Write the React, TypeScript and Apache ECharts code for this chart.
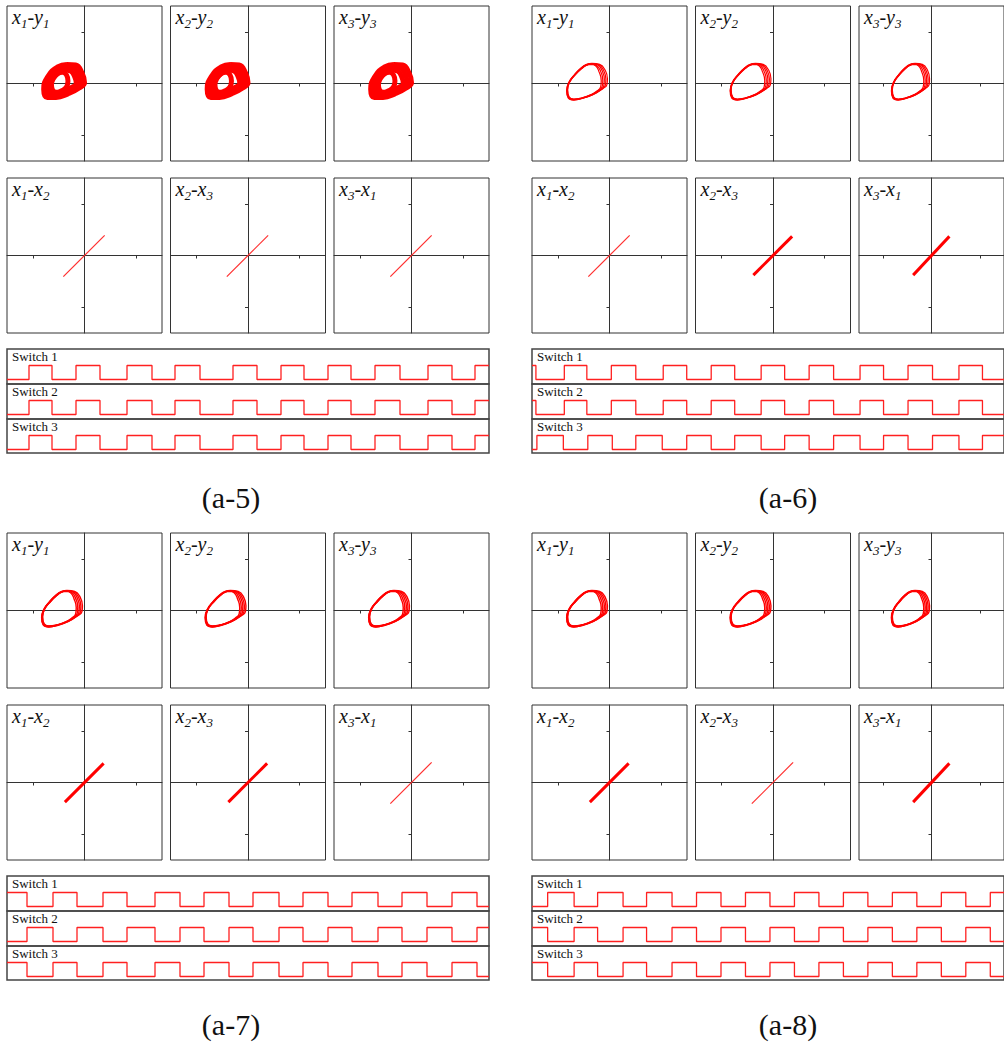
import React, { useEffect, useRef } from 'react';
import * as echarts from 'echarts';

// ---------- data ----------
// a-5 dense attractor (x, y) loops
const blobLoop1 = [[-0.34,0.37],[-0.17,0.36],[-0.05,0.21],[0.0,0.02],[-0.11,-0.09],[-0.32,-0.20],[-0.55,-0.27],[-0.72,-0.27],[-0.79,-0.11],[-0.70,0.15],[-0.52,0.32],[-0.34,0.37]];
const blobLoop2 = [[-0.36,0.31],[-0.22,0.30],[-0.12,0.17],[-0.08,0.01],[-0.17,-0.08],[-0.34,-0.16],[-0.54,-0.22],[-0.68,-0.21],[-0.73,-0.08],[-0.65,0.12],[-0.50,0.27],[-0.36,0.31]];
const blobLoop3 = [[-0.38,0.26],[-0.27,0.24],[-0.19,0.13],[-0.16,0.0],[-0.24,-0.07],[-0.38,-0.13],[-0.54,-0.17],[-0.64,-0.15],[-0.68,-0.05],[-0.61,0.10],[-0.49,0.22],[-0.38,0.26]];
const blobLoop4 = [[-0.43,0.22],[-0.35,0.17],[-0.32,0.05],[-0.35,-0.07],[-0.44,-0.14],[-0.55,-0.18],[-0.62,-0.12],[-0.64,-0.02],[-0.60,0.10],[-0.52,0.19],[-0.43,0.22]];

// a-6 / a-7 / a-8 thin attractor loops (strands bunch on the right side)
const ringLoopA = [[-0.34,0.39],[-0.19,0.37],[-0.08,0.25],[-0.04,0.09],[-0.05,-0.02],[-0.13,-0.10],[-0.31,-0.21],[-0.50,-0.28],[-0.69,-0.32],[-0.80,-0.28],[-0.83,-0.14],[-0.79,0.02],[-0.67,0.18],[-0.54,0.31],[-0.44,0.37],[-0.34,0.39]];
const ringLoopB = [[-0.35,0.385],[-0.21,0.365],[-0.11,0.245],[-0.07,0.085],[-0.08,-0.03],[-0.16,-0.115],[-0.33,-0.215],[-0.51,-0.28],[-0.69,-0.315],[-0.795,-0.275],[-0.825,-0.135],[-0.785,0.02],[-0.665,0.18],[-0.54,0.305],[-0.44,0.365],[-0.35,0.385]];
const ringLoopC = [[-0.35,0.38],[-0.23,0.36],[-0.14,0.24],[-0.10,0.08],[-0.11,-0.04],[-0.19,-0.13],[-0.35,-0.22],[-0.52,-0.28],[-0.69,-0.31],[-0.79,-0.27],[-0.82,-0.13],[-0.78,0.02],[-0.66,0.18],[-0.535,0.30],[-0.445,0.36],[-0.35,0.38]];
const ringLoopD = [[-0.36,0.375],[-0.25,0.35],[-0.17,0.23],[-0.13,0.07],[-0.14,-0.05],[-0.22,-0.14],[-0.37,-0.225],[-0.53,-0.28],[-0.69,-0.305],[-0.785,-0.265],[-0.815,-0.125],[-0.775,0.025],[-0.655,0.18],[-0.53,0.30],[-0.445,0.355],[-0.36,0.375]];
const ringLoopE = [[-0.36,0.37],[-0.27,0.345],[-0.20,0.22],[-0.16,0.06],[-0.17,-0.06],[-0.25,-0.15],[-0.39,-0.23],[-0.54,-0.28],[-0.69,-0.30],[-0.78,-0.26],[-0.81,-0.12],[-0.77,0.03],[-0.65,0.18],[-0.53,0.295],[-0.45,0.35],[-0.36,0.37]];

// x_i - x_j synchronisation lines
const diagThin = [[-0.41,-0.41],[0.39,0.39]];
const diagThick = [[-0.38,-0.38],[0.37,0.37]];
const a5DiagThick = [false, false, false];
const a6DiagThick = [false, true, true];
const a7DiagThick = [true, true, false];
const a8DiagThick = [true, false, true];

// switch signals: start level and toggle positions
const a5SwitchStart = [0, 0, 0];
const a5Switch1Edges = [22,45,69,93,120,145,168,193,226,250,274,297,321,344,368,393,421,445,468];
const a5Switch2Edges = [22,45,69,93,120,145,168,193,226,250,274,297,321,344,368,393,421,445,468];
const a5Switch3Edges = [22,45,69,93,120,145,168,193,226,250,274,297,321,344,368,393,421,445,468];
const a6SwitchStart = [1, 1, 0];
const a6Switch1Edges = [4,33,56,81,106,134,158,183,207,234,258,283,308,335,359,384,409,436,460];
const a6Switch2Edges = [4,33,56,81,106,134,158,183,207,234,258,283,308,335,359,384,409,436,460];
const a6Switch3Edges = [5,32,57,82,106,133,158,183,207,234,258,283,308,335,359,384,409,436,460];
const a7SwitchStart = [1, 0, 1];
const a7Switch1Edges = [20,46,70,96,120,148,173,197,222,246,272,296,321,345,371,395,420,445,470];
const a7Switch2Edges = [20,46,70,96,120,148,173,197,222,246,272,296,321,345,371,395,420,445,470];
const a7Switch3Edges = [20,46,70,96,120,148,173,197,222,246,272,296,321,345,371,395,420,445,470];
const a8SwitchStart = [0, 1, 1];
const a8Switch1Edges = [16,43,67,93,117,143,168,193,218,243,268,293,318,343,368,393,418,443,468];
const a8Switch2Edges = [16,43,67,93,117,143,168,193,218,243,268,293,318,343,368,393,418,443,468];
const a8Switch3Edges = [16,43,67,93,117,143,168,193,218,243,268,293,318,343,368,393,418,443,468];

const PANEL_NAMES = ['(a-5)', '(a-6)', '(a-7)', '(a-8)'];
const TOP_ROW_LABELS = [['x','1','y','1'],['x','2','y','2'],['x','3','y','3']];
const BOTTOM_ROW_LABELS = [['x','1','x','2'],['x','2','x','3'],['x','3','x','1']];
const SWITCH_NAMES = ['Switch 1', 'Switch 2', 'Switch 3'];
const AXIS_TICKS = [-1, 1];

// ---------- layout ----------
const W = 1004, H = 1044;
const PANEL_ORIGINS = [[7, 6], [532, 6], [7, 533], [532, 533]];
const CAPTION_POS = [[231, 497], [788, 497], [231, 1024], [788, 1024]];
const BOX = 155, COL_STEP = 163.5, ROW_STEP = 172;
const SW_OFFSETS = [343, 378, 413];
const SW_HEIGHTS = [35, 35, 34];
const SW_WIDTH = 482;
const RED = '#ff0000';
const SERIF = '"Liberation Serif", "Times New Roman", serif';

function buildOption() {
  const grid: any[] = [], xAxis: any[] = [], yAxis: any[] = [], series: any[] = [], graphic: any[] = [];
  const rings = [ringLoopA, ringLoopB, ringLoopC, ringLoopD, ringLoopE];
  const panels = [
    { loops: [blobLoop1, blobLoop2, blobLoop3, blobLoop4], loopWidth: 5, diag: a5DiagThick, start: a5SwitchStart, edges: [a5Switch1Edges, a5Switch2Edges, a5Switch3Edges] },
    { loops: rings, loopWidth: 1.2, diag: a6DiagThick, start: a6SwitchStart, edges: [a6Switch1Edges, a6Switch2Edges, a6Switch3Edges] },
    { loops: rings, loopWidth: 1.4, diag: a7DiagThick, start: a7SwitchStart, edges: [a7Switch1Edges, a7Switch2Edges, a7Switch3Edges] },
    { loops: rings, loopWidth: 1.4, diag: a8DiagThick, start: a8SwitchStart, edges: [a8Switch1Edges, a8Switch2Edges, a8Switch3Edges] },
  ];

  const label = (parts: string[], left: number, top: number) => ({
    type: 'text', left, top, silent: true,
    style: {
      text: `{v|${parts[0]}}{s|${parts[1]}}{v|-${parts[2]}}{s|${parts[3]}}`,
      fill: '#111',
      rich: {
        v: { fontFamily: SERIF, fontStyle: 'italic', fontSize: 20, lineHeight: 22, fill: '#111' },
        s: { fontFamily: SERIF, fontStyle: 'italic', fontSize: 13, padding: [12, 0, 0, 0], fill: '#111' },
      },
    },
  });

  panels.forEach((p, pi) => {
    const [ox, oy] = PANEL_ORIGINS[pi];
    for (let r = 0; r < 2; r++) {
      for (let c = 0; c < 3; c++) {
        const left = ox + c * COL_STEP, top = oy + r * ROW_STEP;
        const g = grid.length;
        grid.push({ left, top, width: BOX, height: BOX, show: true, borderColor: '#333', borderWidth: 1, backgroundColor: 'transparent' });
        const axisCommon = {
          type: 'value', gridIndex: g, min: -1.5, max: 1.5,
          axisLine: { show: true, onZero: true, lineStyle: { color: '#333', width: 1 } },
          axisTick: { show: true, customValues: AXIS_TICKS, length: 3, lineStyle: { color: '#333', width: 1 } },
          axisLabel: { show: false }, splitLine: { show: false },
        };
        xAxis.push({ ...axisCommon });
        yAxis.push({ ...axisCommon });
        if (r === 0) {
          p.loops.forEach((loop) => {
            series.push({ type: 'line', xAxisIndex: g, yAxisIndex: g, data: loop, smooth: 0.5, symbol: 'none', silent: true, z: 3,
              lineStyle: { color: RED, width: p.loopWidth } });
          });
          graphic.push(label(TOP_ROW_LABELS[c], left + 5, top + 1));
        } else {
          const thick = p.diag[c];
          series.push({ type: 'line', xAxisIndex: g, yAxisIndex: g, data: thick ? diagThick : diagThin, symbol: 'none', silent: true, z: 3,
            color: RED, lineStyle: { color: thick ? RED : '#ff3030', width: thick ? 3 : 1.2 } });
          graphic.push(label(BOTTOM_ROW_LABELS[c], left + 5, top + 1));
        }
      }
    }
    // switches
    for (let s = 0; s < 3; s++) {
      const top = oy + SW_OFFSETS[s], h = SW_HEIGHTS[s];
      const g = grid.length;
      grid.push({ left: ox, top, width: SW_WIDTH, height: h, show: true, borderColor: '#444', borderWidth: 1.5, backgroundColor: 'transparent' });
      xAxis.push({ type: 'value', gridIndex: g, min: 0, max: SW_WIDTH, show: false });
      yAxis.push({ type: 'value', gridIndex: g, min: (30.5 - h) / 14, max: 30.5 / 14, show: false });
      const pts: number[][] = [];
      let lv = p.start[s];
      pts.push([0, lv]);
      p.edges[s].forEach((t) => { pts.push([t, lv]); lv = 1 - lv; pts.push([t, lv]); });
      pts.push([SW_WIDTH, lv]);
      series.push({ type: 'line', xAxisIndex: g, yAxisIndex: g, data: pts, symbol: 'none', silent: true,
        color: '#ff2020', lineStyle: { color: '#ff2020', width: 1.3 } });
      graphic.push({ type: 'text', left: ox + 5, top: top + 1, silent: true,
        style: { text: SWITCH_NAMES[s], fontFamily: SERIF, fontSize: 13, fill: '#111' } });
    }
    graphic.push({ type: 'text', x: CAPTION_POS[pi][0], y: CAPTION_POS[pi][1], silent: true,
      style: { text: PANEL_NAMES[pi], fontFamily: SERIF, fontSize: 30, fill: '#111', textAlign: 'center', textVerticalAlign: 'middle' } });
  });

  return { animation: false, backgroundColor: '#fff', grid, xAxis, yAxis, series, graphic };
}

export default function App() {
  const ref = useRef<HTMLDivElement>(null);
  useEffect(() => {
    if (!ref.current) return;
    const chart = echarts.init(ref.current, null, { renderer: 'svg', width: W, height: H });
    chart.setOption(buildOption() as any);
    return () => chart.dispose();
  }, []);
  return <div ref={ref} style={{ position: 'fixed', left: 0, top: 0, width: W, height: H, background: '#fff' }} />;
}
